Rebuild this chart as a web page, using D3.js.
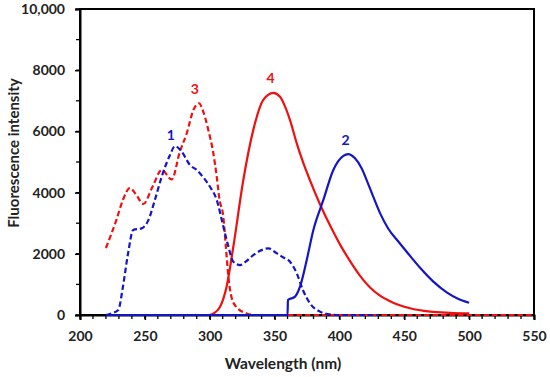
<!DOCTYPE html>
<html>
<head>
<meta charset="utf-8">
<script src="https://cdn.jsdelivr.net/npm/d3@7"></script>
<style>
body { margin: 0; background: #fff; }
text { font-family: Lato, "Open Sans", sans-serif; font-weight: bold; }
</style>
</head>
<body>
<div id="chart"></div>
<script>
// curve 1 - blue dashed
var wl1 = [220, 225, 229.5, 233, 237, 241, 247.5, 252.7, 258, 263, 269.4, 273.2, 278.4, 284.8, 290, 295, 300.2, 305.4, 310.5, 314, 318.2, 323.4, 328, 333.6, 340, 345.2, 351.6, 356, 361.9, 367.1, 372, 377.3, 385, 392.7, 400, 430]
var int1 = [0, 60, 160, 900, 2000, 2780, 2830, 3100, 3800, 4520, 5230, 5520, 5340, 4900, 4740, 4500, 4190, 3760, 2890, 2300, 1740, 1630, 1750, 1960, 2120, 2180, 2020, 1900, 1740, 1360, 800, 380, 110, 20, 0, 0]

// curve 2 - blue solid
var wl2 = [220, 360, 360.3, 365.8, 369.6, 374.8, 379.9, 387.6, 395.3, 403, 406.8, 412, 417.2, 421, 426.2, 431.3, 437.7, 445.4, 453.1, 462, 472.4, 482.7, 491, 500]
var int2 = [0, 0, 490, 600, 925, 1800, 2780, 3760, 4740, 5200, 5260, 5120, 4790, 4410, 3850, 3330, 2820, 2400, 2000, 1550, 1090, 740, 540, 400]

// curve 3 - red dashed
var wl3 = [220, 228, 233, 238.5, 243, 248.8, 256, 263, 270.7, 277, 282.3, 287.4, 291.7, 295, 298.9, 302.8, 305.4, 307.4, 310.5, 312.5, 314.5, 317, 320.8, 328.5, 335, 550]
var int3 = [2190, 3100, 3750, 4150, 3950, 3630, 4200, 4740, 4430, 5340, 5940, 6700, 6920, 6650, 6050, 5280, 4520, 3810, 3200, 2200, 1200, 550, 250, 50, 0, 0]

// curve 4 - red solid
var wl4 = [300, 304, 308, 313, 318.2, 325.9, 333.6, 341.3, 349, 354.2, 358.1, 361.9, 367.1, 372.2, 377.3, 385, 392.7, 400.5, 408.2, 415.9, 423.6, 431, 439, 454.4, 469.9, 485, 500]
var int4 = [0, 80, 270, 925, 2230, 4410, 6050, 7030, 7260, 7130, 6810, 6370, 5610, 4960, 4400, 3620, 2930, 2300, 1760, 1280, 900, 640, 450, 220, 110, 70, 50]

var xTicks = [200, 250, 300, 350, 400, 450, 500, 550]
var yTicks = [0, 2000, 4000, 6000, 8000, 10000]
var yTickLabels = ['0', '2000', '4000', '6000', '8000', '10,000']

var labels = [
	{ text: '1', wl: 270, val: 5720, color: '#1515c8' },
	{ text: '2', wl: 404.7, val: 5560, color: '#1515c8' },
	{ text: '3', wl: 288.5, val: 7220, color: '#f01010' },
	{ text: '4', wl: 347, val: 7580, color: '#f01010' }
]

var W = 550, H = 377
var pLeft = 80, pRight = 534, pTop = 9, pBottom = 315

var svg = d3.select('#chart').append('svg')
	.attr('width', W).attr('height', H)

var x = d3.scaleLinear().domain([200, 550]).range([pLeft, pRight])
var y = d3.scaleLinear().domain([0, 10000]).range([pBottom, pTop])

// frame
svg.append('rect')
	.attr('x', pLeft).attr('y', pTop)
	.attr('width', pRight - pLeft).attr('height', pBottom - pTop)
	.attr('fill', 'none').attr('stroke', '#000').attr('stroke-width', 2)

// minor ticks
var xMinor = d3.range(200, 551, 10)
svg.append('g').selectAll('line').data(xMinor).enter().append('line')
	.attr('x1', function(d){ return x(d) }).attr('x2', function(d){ return x(d) })
	.attr('y1', pBottom).attr('y2', pBottom + 4)
	.attr('stroke', '#000').attr('stroke-width', 1.3)

var yMinor = d3.range(0, 10001, 1000)
svg.append('g').selectAll('line').data(yMinor).enter().append('line')
	.attr('x1', pLeft - 4).attr('x2', pLeft)
	.attr('y1', function(d){ return y(d) }).attr('y2', function(d){ return y(d) })
	.attr('stroke', '#000').attr('stroke-width', 1.3)

// axes
svg.append('g')
	.attr('transform', 'translate(0,' + pBottom + ')')
	.call(d3.axisBottom(x).tickValues(xTicks).tickSize(5).tickPadding(11))
svg.append('g')
	.attr('transform', 'translate(' + pLeft + ',0)')
	.call(d3.axisLeft(y).tickValues(yTicks).tickSize(5).tickPadding(10)
		.tickFormat(function(d, i){ return yTickLabels[i] }))

svg.selectAll('.domain').attr('stroke-width', 2)
svg.selectAll('.tick line').attr('stroke-width', 1.5)
svg.selectAll('.tick text').attr('font-size', 14).attr('fill', '#222')
	.style('font-family', 'Lato, "Open Sans", sans-serif').style('font-weight', 'bold')

// axis titles
svg.append('text')
	.attr('x', 283).attr('y', 369)
	.attr('text-anchor', 'middle').attr('font-size', 15.5).attr('fill', '#222')
	.text('Wavelength (nm)')
svg.append('text')
	.attr('transform', 'translate(19,153) rotate(-90)')
	.attr('text-anchor', 'middle').attr('font-size', 15).attr('fill', '#222')
	.text('Fluorescence intensity')

// curves
var line = d3.line()
	.x(function(d){ return x(d[0]) })
	.y(function(d){ return y(d[1]) })
	.curve(d3.curveMonotoneX)

function pairs(a, b) { return a.map(function(v, i){ return [v, b[i]] }) }

var series = [
	{ data: pairs(wl3, int3), color: '#f01010', dash: '5.5,3' },
	{ data: pairs(wl4, int4), color: '#f01010', dash: null },
	{ data: pairs(wl2, int2), color: '#1515c8', dash: null },
	{ data: pairs(wl1, int1), color: '#1515c8', dash: '5.5,3' }
]

svg.append('g').selectAll('path').data(series).enter().append('path')
	.attr('d', function(d){ return line(d.data) })
	.attr('fill', 'none')
	.attr('stroke', function(d){ return d.color })
	.attr('stroke-width', 2.2)
	.attr('stroke-dasharray', function(d){ return d.dash })

// curve numbers
svg.append('g').selectAll('text').data(labels).enter().append('text')
	.attr('x', function(d){ return x(d.wl) })
	.attr('y', function(d){ return y(d.val) })
	.attr('text-anchor', 'middle')
	.attr('font-size', 14)
	.attr('fill', function(d){ return d.color })
	.text(function(d){ return d.text })
</script>
</body>
</html>
